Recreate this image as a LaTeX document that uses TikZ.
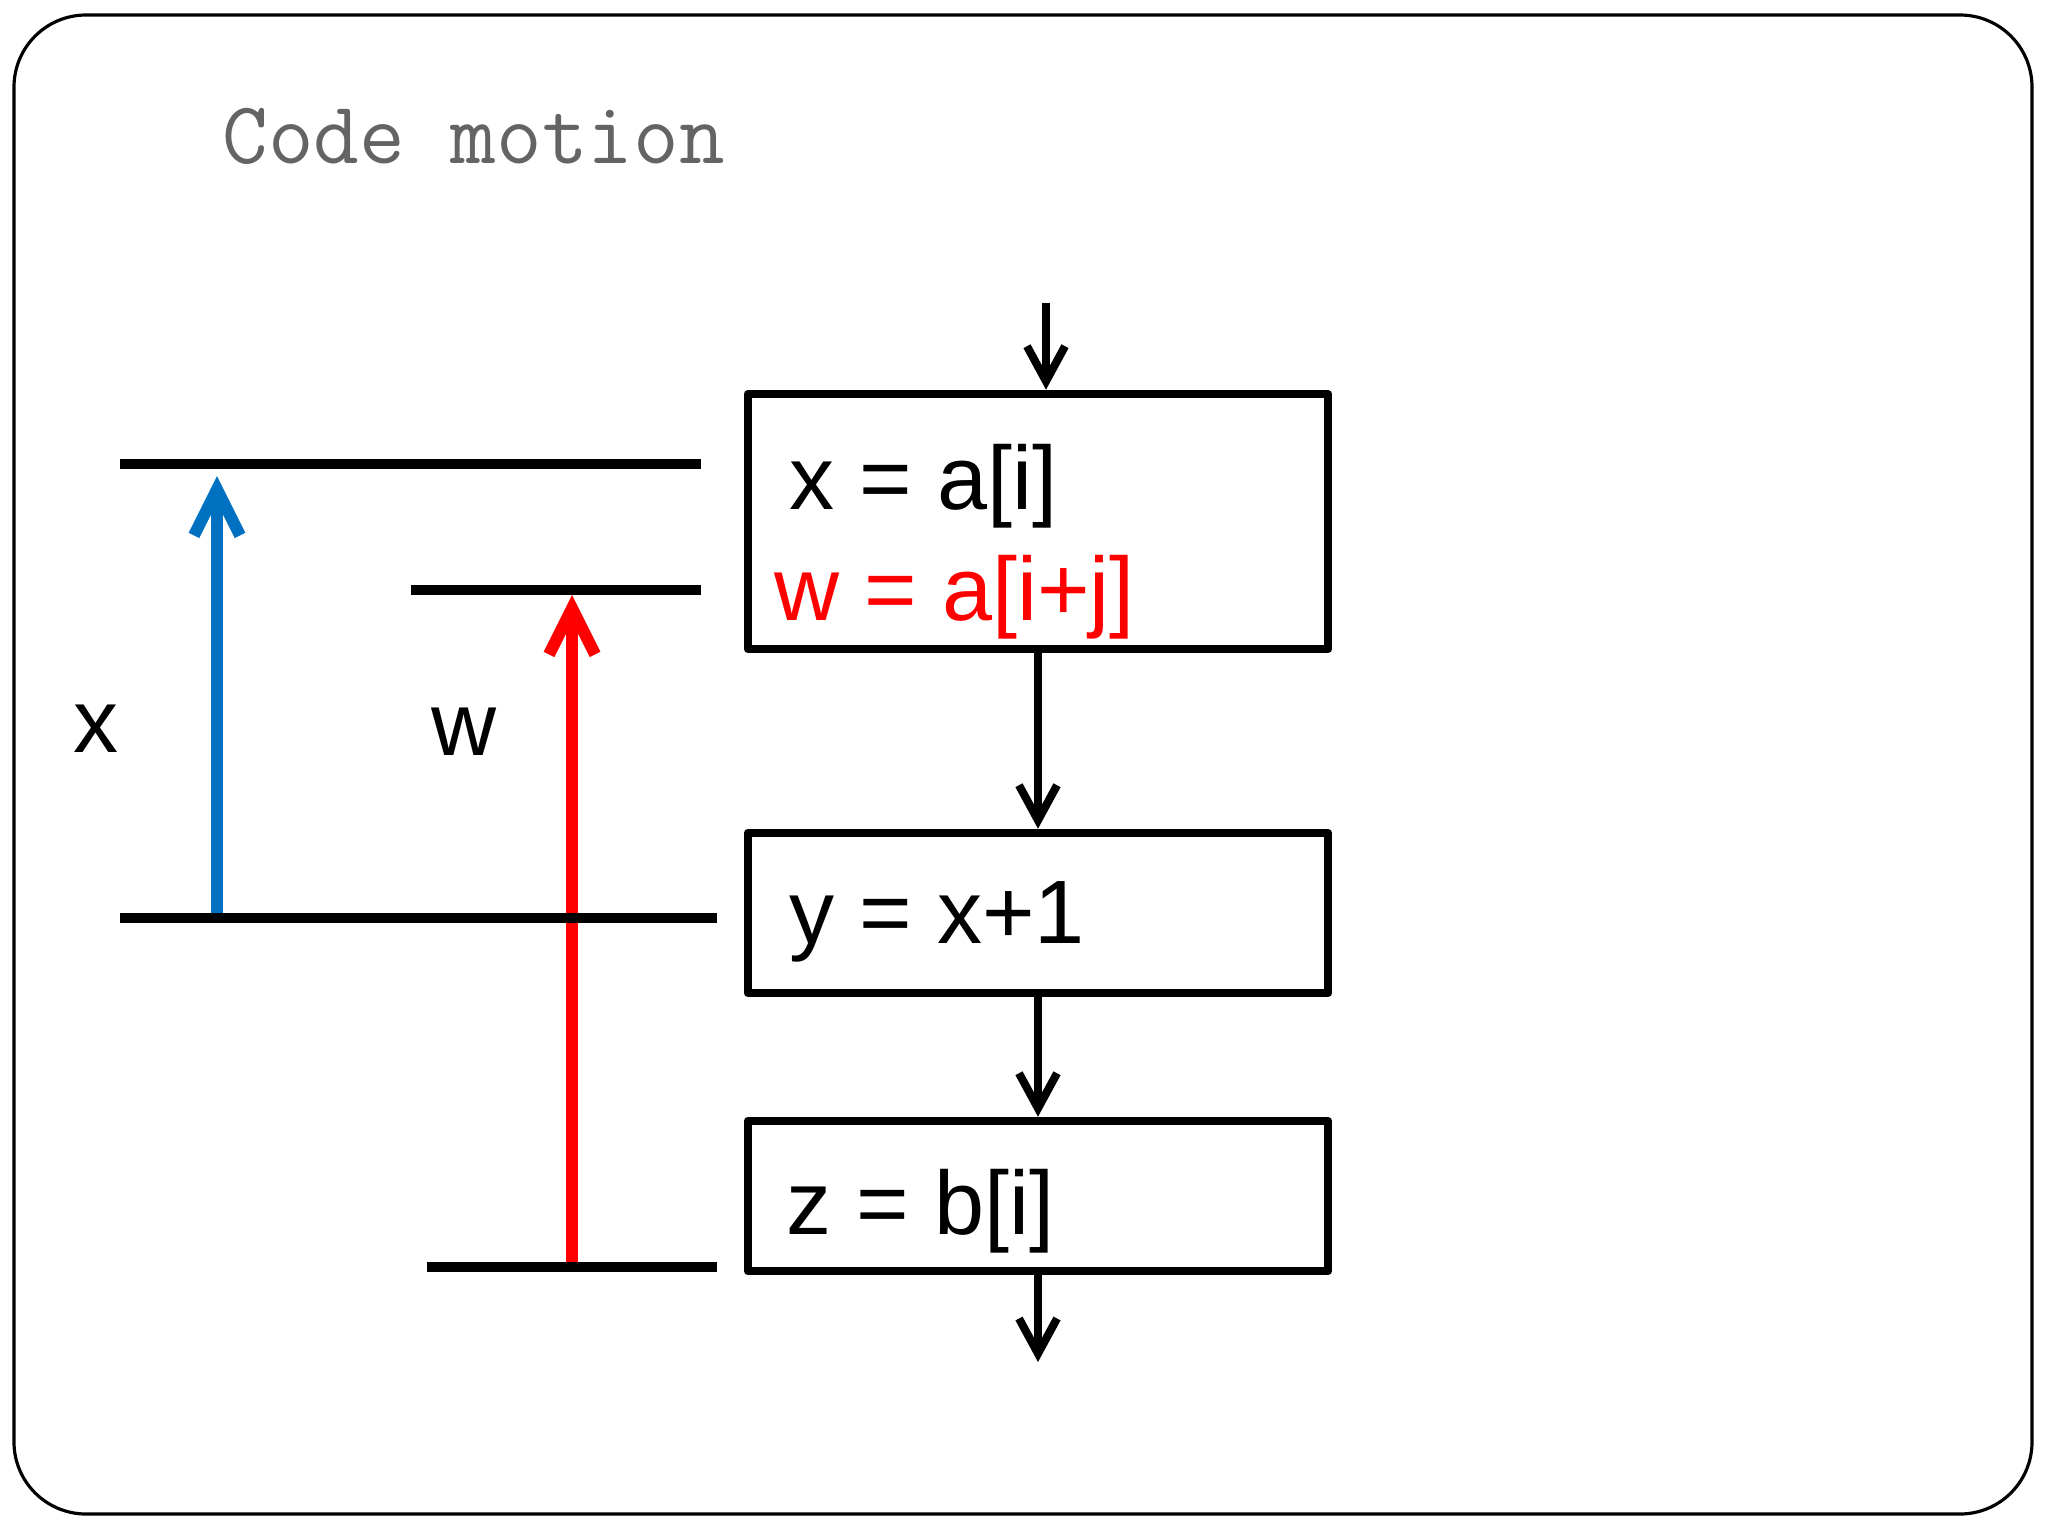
\documentclass[tikz,border=0pt]{standalone}
\usepackage{fontspec}
\setmainfont{Liberation Sans}
\usetikzlibrary{arrows.meta}
\definecolor{bleuX}{HTML}{0070C0}
\definecolor{rougeW}{HTML}{FF0000}
\definecolor{grisTitre}{HTML}{646464}

\begin{document}
\begin{tikzpicture}[x=0.01cm, y=-0.01cm,
    bloc/.style={draw, line width=2.4pt, line join=round, minimum width=5.8cm, inner sep=0pt},
    instr/.style={anchor=base west, inner sep=0pt, font=\fontsize{25.6}{30}\selectfont},
    flot/.style={line width=2.3pt, -{Straight Barb[length=3.5mm, width=3.8mm]}},
    duree/.style={line width=3.4pt, -{Straight Barb[length=4.6mm, width=4.6mm]}},
    borne/.style={line width=2.6pt}]
    \useasboundingbox (0,0) rectangle (2048,1536);

    % Cadre et titre
    \draw[line width=0.9pt, rounded corners=0.72cm] (14,15) rectangle (2032,1514);
    \node[anchor=base west, inner sep=0pt, text=grisTitre, font=\ttfamily\fontsize{25.2}{30}\selectfont] (titre) at (222,163) {Code motion};

    % Blocs de base
    \node[bloc, minimum height=2.55cm] (b1) at (1038,521.5) {};
    \node[bloc, minimum height=1.60cm] (b2) at (1038,913) {};
    \node[bloc, minimum height=1.50cm] (b3) at (1038,1196) {};

    % Instructions
    \node[instr] (t1) at (789,509) {x = a[i]};
    \node[instr, text=rougeW] (t2) at (774,620) {w = a[i+j]};
    \node[instr] (t3) at (789,943) {y = x+1};
    \node[instr] (t4) at (786,1234) {z = b[i]};

    % Flot de controle
    \coordinate (entree) at (1046,303);
    \coordinate (sortie) at (1038,1362);
    \draw[flot] (entree) -- (entree |- b1.north);
    \draw[flot] (b1) -- (b2);
    \draw[flot] (b2) -- (b3);
    \draw[flot] (b3) -- (sortie);

    % Durees de vie
    \coordinate (xbas) at (217,918);
    \coordinate (xhaut) at (217,476);
    \coordinate (wbas) at (572,1267);
    \coordinate (whaut) at (572,595);
    \draw[duree, bleuX] (xbas) -- (xhaut);
    \draw[duree, rougeW] (wbas) -- (whaut);
    \node[instr] (lx) at (73,752) {x};
    \node[instr] (lw) at (431,755) {w};

    % Bornes
    \coordinate (xdefG) at (120,464);
    \coordinate (xdefD) at (701,464);
    \coordinate (wdefG) at (411,590);
    \coordinate (wdefD) at (701,590);
    \coordinate (xuseG) at (120,918);
    \coordinate (xuseD) at (717,918);
    \coordinate (wuseG) at (427,1267);
    \coordinate (wuseD) at (717,1267);
    \draw[borne] (xdefG) -- (xdefD);
    \draw[borne] (wdefG) -- (wdefD);
    \draw[borne] (xuseG) -- (xuseD);
    \draw[borne] (wuseG) -- (wuseD);
\end{tikzpicture}
\end{document}
